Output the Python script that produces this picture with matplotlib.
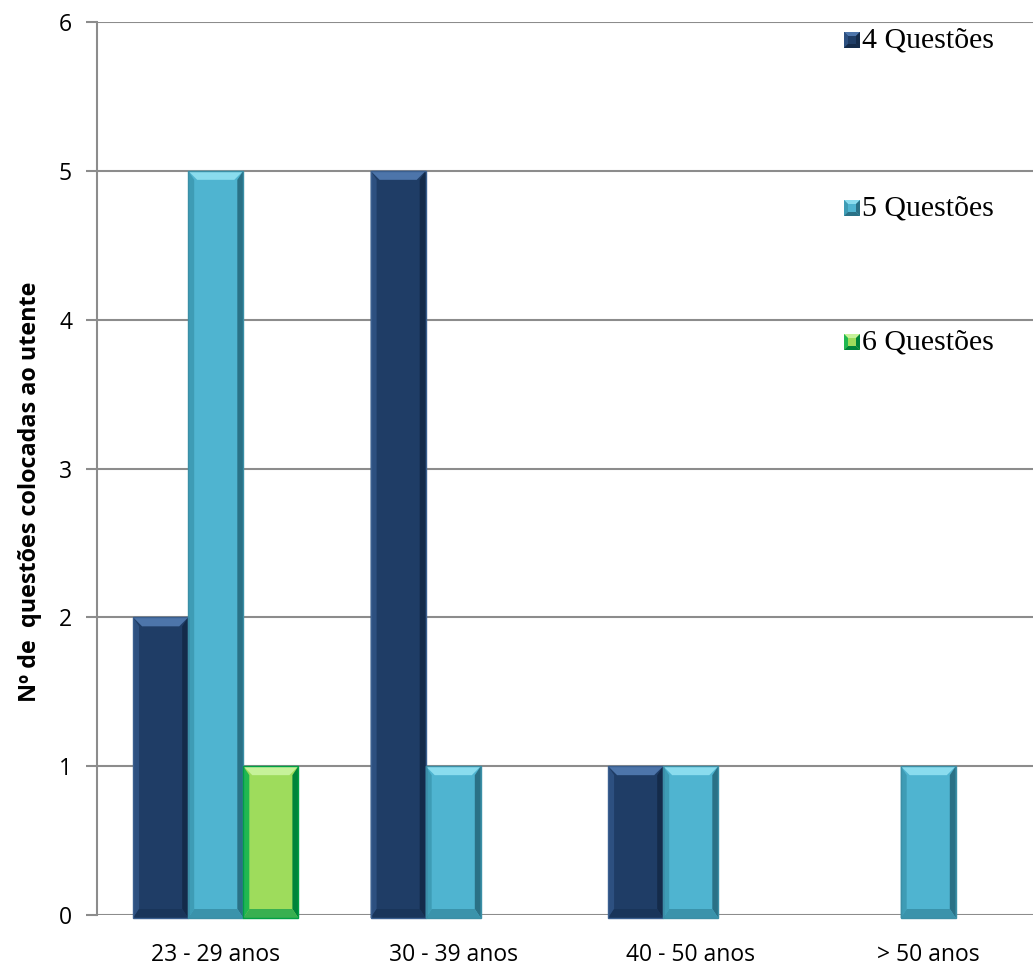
import numpy as np
import matplotlib.pyplot as plt
from matplotlib.patches import Polygon, Rectangle

# age groups and number of respondents per question count
categories = ["23 - 29 anos", "30 - 39 anos", "40 - 50 anos", "> 50 anos"]
series_names = ["4 Questões", "5 Questões", "6 Questões"]
q4 = [2, 5, 1, 0]
q5 = [5, 1, 1, 1]
q6 = [1, 0, 0, 0]

# face / bevel shades / outline for each series
palettes = [
    dict(face="#1F3D66", top="#4D75AA", left="#2D5080", right="#142B4A", bottom="#19355A", edge="#3A5F8F"),
    dict(face="#4FB4D0", top="#8ADCEE", left="#3E9CB5", right="#2A7186", bottom="#3A93AB", edge="#3B8FA6"),
    dict(face="#9EDC5C", top="#C6F29A", left="#20B850", right="#00843A", bottom="#38B050", edge="#00A045"),
]

W, H, DPI = 1033, 968, 100
fig = plt.figure(figsize=(W / DPI, H / DPI), dpi=DPI)
ax_l, ax_r, ax_t, ax_b = 97, 1047, 22, 915
ax = fig.add_axes([ax_l / W, 1 - ax_b / H, (ax_r - ax_l) / W, (ax_b - ax_t) / H])

x = np.arange(len(categories))
width = 0.232
ax.set_xlim(-0.5, len(categories) - 0.5)
ax.set_ylim(0, 6)

# data units per pixel
px_x = len(categories) / (ax_r - ax_l)
px_y = 6 / (ax_b - ax_t)


def bevel_bar(xc, h, pal):
    if h <= 0:
        return
    x0, x1 = xc - width / 2, xc + width / 2
    y0, y1 = -3 * px_y, h
    ax.add_patch(Rectangle((x0, y0), x1 - x0, y1 - y0, facecolor=pal["face"],
                           edgecolor="none", zorder=3, clip_on=False))
    bx, by = 9 * px_x, 9 * px_y
    sx = 6 * px_x
    polys = [
        ([(x0, y1), (x1, y1), (x1 - bx, y1 - by), (x0 + bx, y1 - by)], pal["top"]),
        ([(x0, y0), (x0, y1), (x0 + sx, y1 - by), (x0 + sx, y0 + by)], pal["left"]),
        ([(x1, y0), (x1, y1), (x1 - sx, y1 - by), (x1 - sx, y0 + by)], pal["right"]),
        ([(x0, y0), (x1, y0), (x1 - sx, y0 + by), (x0 + sx, y0 + by)], pal["bottom"]),
    ]
    for pts, col in polys:
        ax.add_patch(Polygon(pts, closed=True, facecolor=col, edgecolor="none",
                             zorder=3, clip_on=False))
    ax.add_patch(Rectangle((x0, y0), x1 - x0, y1 - y0, facecolor="none",
                           edgecolor=pal["edge"], linewidth=1.0, zorder=4, clip_on=False))


for i, vals in enumerate([q4, q5, q6]):
    for xi, v in zip(x, vals):
        bevel_bar(xi + (i - 1) * width, v, palettes[i])

# gridlines and axes styling
ax.set_yticks(range(0, 7))
ax.yaxis.grid(True, color="#8C8C8C", linewidth=1.5, zorder=0)
ax.set_axisbelow(True)
for s in ["top", "right", "bottom"]:
    ax.spines[s].set_visible(False)
ax.spines["left"].set_color("#8C8C8C")
ax.spines["left"].set_linewidth(1.5)
ax.tick_params(axis="y", length=8, width=1.5, color="#8C8C8C", pad=10,
               labelsize=16.5)
ax.tick_params(axis="x", length=0, pad=20, labelsize=16.5)
ax.set_xticks(x)
ax.set_xticklabels(categories)
for lab in ax.get_xticklabels() + ax.get_yticklabels():
    lab.set_fontfamily("Open Sans")

ax.set_ylabel("Nº de  questões colocadas ao utente", fontsize=16.8,
              fontweight="bold", fontfamily="Open Sans")
ax.yaxis.set_label_coords((42 - ax_l) / (ax_r - ax_l), (ax_b - 492) / (ax_b - ax_t))

# legend with pyramid-style markers, spread down the right side
leg_y = [40, 208, 342]
mk = 16
for name, ypx, pal in zip(series_names, leg_y, palettes):
    cx = 844
    x0, x1 = (cx - ax_l) * px_x - 0.5, (cx + mk - ax_l) * px_x - 0.5
    y0 = (ax_b - (ypx + mk / 2)) * px_y
    y1 = (ax_b - (ypx - mk / 2)) * px_y
    my = (y0 + y1) / 2
    ix, iy = 4 * px_x, 4 * px_y
    ax.add_patch(Rectangle((x0, y0), x1 - x0, y1 - y0, facecolor=pal["face"],
                           edgecolor="none", zorder=5))
    tris = [
        ([(x0, y1), (x1, y1), (x1 - ix, y1 - iy), (x0 + ix, y1 - iy)], pal["top"]),
        ([(x0, y0), (x0, y1), (x0 + ix, y1 - iy), (x0 + ix, y0 + iy)], pal["left"]),
        ([(x1, y0), (x1, y1), (x1 - ix, y1 - iy), (x1 - ix, y0 + iy)], pal["right"]),
        ([(x0, y0), (x1, y0), (x1 - ix, y0 + iy), (x0 + ix, y0 + iy)], pal["right"]),
    ]
    for pts, col in tris:
        ax.add_patch(Polygon(pts, closed=True, facecolor=col, edgecolor="none", zorder=5))
    ax.text(x1 + 2 * px_x, my, name, fontsize=21.5, fontfamily="Liberation Serif",
            va="center", ha="left", zorder=6)

fig.savefig("out.png", dpi=DPI)
